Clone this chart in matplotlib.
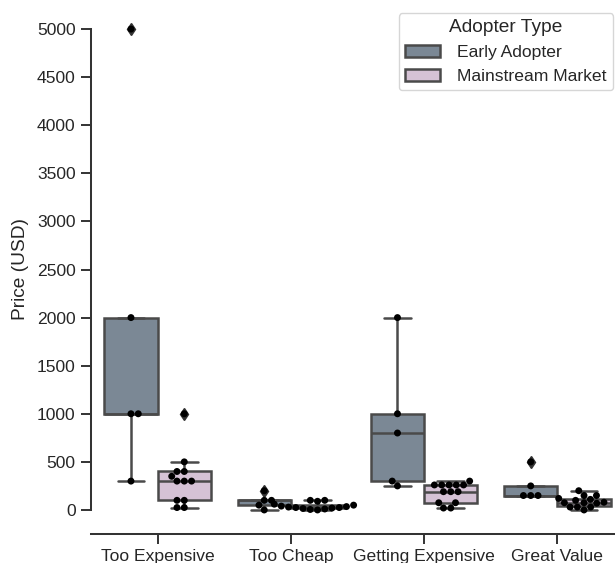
import matplotlib
matplotlib.use("Agg")
import matplotlib.pyplot as plt
import seaborn as sns
import pandas as pd

# === Data ===
categories = ["Too Expensive", "Too Cheap", "Getting Expensive", "Great Value"]
groups = ["Early Adopter", "Mainstream Market"]

early_too_expensive = [300, 1000, 1000, 2000, 5000]
main_too_expensive = [25, 25, 100, 100, 300, 300, 300, 350, 400, 400, 500, 1000]

early_too_cheap = [0, 50, 100, 100, 200]
main_too_cheap = [0, 5, 10, 15, 20, 25, 25, 30, 35, 40, 50, 60, 90, 100, 100]

early_getting_exp = [250, 300, 800, 1000, 2000]
main_getting_exp = [20, 20, 75, 75, 190, 190, 190, 260, 260, 260, 260, 260, 300]

early_great_value = [150, 150, 150, 250, 500]
main_great_value = [0, 30, 30, 30, 70, 75, 75, 80, 100, 110, 120, 150, 150, 200]

series = {
    ("Too Expensive", "Early Adopter"): early_too_expensive,
    ("Too Expensive", "Mainstream Market"): main_too_expensive,
    ("Too Cheap", "Early Adopter"): early_too_cheap,
    ("Too Cheap", "Mainstream Market"): main_too_cheap,
    ("Getting Expensive", "Early Adopter"): early_getting_exp,
    ("Getting Expensive", "Mainstream Market"): main_getting_exp,
    ("Great Value", "Early Adopter"): early_great_value,
    ("Great Value", "Mainstream Market"): main_great_value,
}

rows = []
for (cat, grp), vals in series.items():
    for v in vals:
        rows.append({"Question": cat, "Adopter Type": grp, "Price (USD)": v})
df = pd.DataFrame(rows)

sns.set_theme(style="ticks")
plt.rcParams['font.family'] = ['Liberation Sans', 'DejaVu Sans']

fig = plt.figure(figsize=(6.15, 5.63), dpi=100)
ax = fig.add_axes([91 / 615, 29 / 563, 533 / 615, 529 / 563])

palette = {"Early Adopter": "lightslategray", "Mainstream Market": "thistle"}

sns.boxplot(data=df, x="Question", y="Price (USD)", hue="Adopter Type",
            order=categories, hue_order=groups, palette=palette,
            linecolor="#4a4a4a", linewidth=1.8,
            flierprops=dict(marker="d", markerfacecolor="#333333",
                            markeredgecolor="#333333", markersize=6.5),
            ax=ax)
sns.swarmplot(data=df, x="Question", y="Price (USD)", hue="Adopter Type",
              order=categories, hue_order=groups, dodge=True,
              palette=["black", "black"], size=5, legend=False, ax=ax)

ax.set_ylim(-250, 5250)
ax.set_yticks(range(0, 5001, 500))
ax.set_xlabel("")
ax.set_ylabel("Price (USD)", fontsize=13.8, labelpad=6)
ax.tick_params(labelsize=12.6, length=7.5, width=1.4, color="#333333")

# trimmed y spine, open top/right
ax.spines['top'].set_visible(False)
ax.spines['right'].set_visible(False)
ax.spines['left'].set_bounds(0, 5000)
for s in ['left', 'bottom']:
    ax.spines[s].set_linewidth(1.45)
    ax.spines[s].set_color("#333333")

leg = ax.legend(title="Adopter Type", loc="upper right",
                bbox_to_anchor=(613 / 615, 1 - 13 / 563),
                bbox_transform=fig.transFigure, borderaxespad=0,
                borderpad=0.35, handletextpad=1.0,
                fontsize=12.6, title_fontsize=13.8, frameon=True)

plt.savefig("out.png", dpi=100)
